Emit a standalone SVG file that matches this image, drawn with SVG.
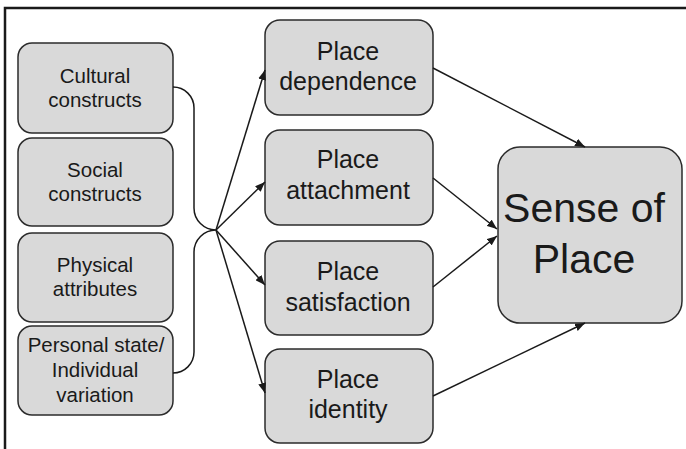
<svg xmlns="http://www.w3.org/2000/svg" width="686" height="449" viewBox="0 0 686 449">
<style>
.box{fill:#d9d9d9;stroke:#2b2b2b;stroke-width:1.5}
.t{font-family:"Liberation Sans",Arial,sans-serif;fill:#1a1a1a;text-anchor:middle}
.s{font-size:20.5px}
.m{font-size:25px}
.l{font-size:41px}
.c{fill:none;stroke:#1a1a1a;stroke-width:1.5}
.frame{fill:none;stroke:#1a1a1a;stroke-width:2.5}
</style>
<defs>
<marker id="ah" markerUnits="userSpaceOnUse" markerWidth="10" markerHeight="8" refX="10" refY="4" orient="auto">
<path d="M0,0 L10,4 L0,8 z" fill="#1a1a1a"/>
</marker>
</defs>
<rect width="686" height="449" fill="#ffffff"/>
<path class="frame" d="M5,449 L5,8 L686,8"/>
<g id="cultural">
<rect class="box" x="18" y="43" width="155" height="90" rx="14"/>
<text class="t s" x="95" y="83">Cultural</text>
<text class="t s" x="95" y="107">constructs</text>
</g>
<g id="social">
<rect class="box" x="18" y="138" width="155" height="88" rx="14"/>
<text class="t s" x="95" y="177">Social</text>
<text class="t s" x="95" y="201">constructs</text>
</g>
<g id="physical">
<rect class="box" x="18" y="233" width="155" height="89" rx="14"/>
<text class="t s" x="95" y="272">Physical</text>
<text class="t s" x="95" y="296">attributes</text>
</g>
<g id="personal">
<rect class="box" x="18" y="326" width="155" height="89" rx="14"/>
<text class="t s" x="96" y="352">Personal state/</text>
<text class="t s" x="95" y="377">Individual</text>
<text class="t s" x="95" y="402">variation</text>
</g>
<g id="dependence">
<rect class="box" x="265" y="20" width="168" height="95" rx="15"/>
<text class="t m" x="348" y="60">Place</text>
<text class="t m" x="348" y="90">dependence</text>
</g>
<g id="attachment">
<rect class="box" x="265" y="130" width="168" height="95" rx="15"/>
<text class="t m" x="348" y="168">Place</text>
<text class="t m" x="348" y="199">attachment</text>
</g>
<g id="satisfaction">
<rect class="box" x="265" y="241" width="168" height="94" rx="15"/>
<text class="t m" x="348" y="280">Place</text>
<text class="t m" x="348" y="311">satisfaction</text>
</g>
<g id="identity">
<rect class="box" x="265" y="349" width="168" height="94" rx="15"/>
<text class="t m" x="348" y="388">Place</text>
<text class="t m" x="348" y="418">identity</text>
</g>
<g id="sense">
<rect class="box" x="498" y="147" width="184" height="176" rx="22"/>
<text class="t l" x="584" y="222">Sense of</text>
<text class="t l" x="584" y="273">Place</text>
</g>
<g id="connectors">
<path class="c" d="M173,87 A21,21 0 0 1 194,108 L194,208 A22,22 0 0 0 216,230 A22,22 0 0 0 194,252 L194,352 A21,21 0 0 1 173,373"/>
<line class="c" x1="216" y1="230" x2="265" y2="70" marker-end="url(#ah)"/>
<line class="c" x1="216" y1="230" x2="265" y2="182" marker-end="url(#ah)"/>
<line class="c" x1="216" y1="230" x2="265" y2="285" marker-end="url(#ah)"/>
<line class="c" x1="216" y1="230" x2="265" y2="393" marker-end="url(#ah)"/>
<line class="c" x1="433" y1="68" x2="585" y2="147" marker-end="url(#ah)"/>
<line class="c" x1="433" y1="178" x2="497" y2="229" marker-end="url(#ah)"/>
<line class="c" x1="433" y1="287" x2="497" y2="236" marker-end="url(#ah)"/>
<line class="c" x1="433" y1="396" x2="585" y2="323" marker-end="url(#ah)"/>
</g>
</svg>
